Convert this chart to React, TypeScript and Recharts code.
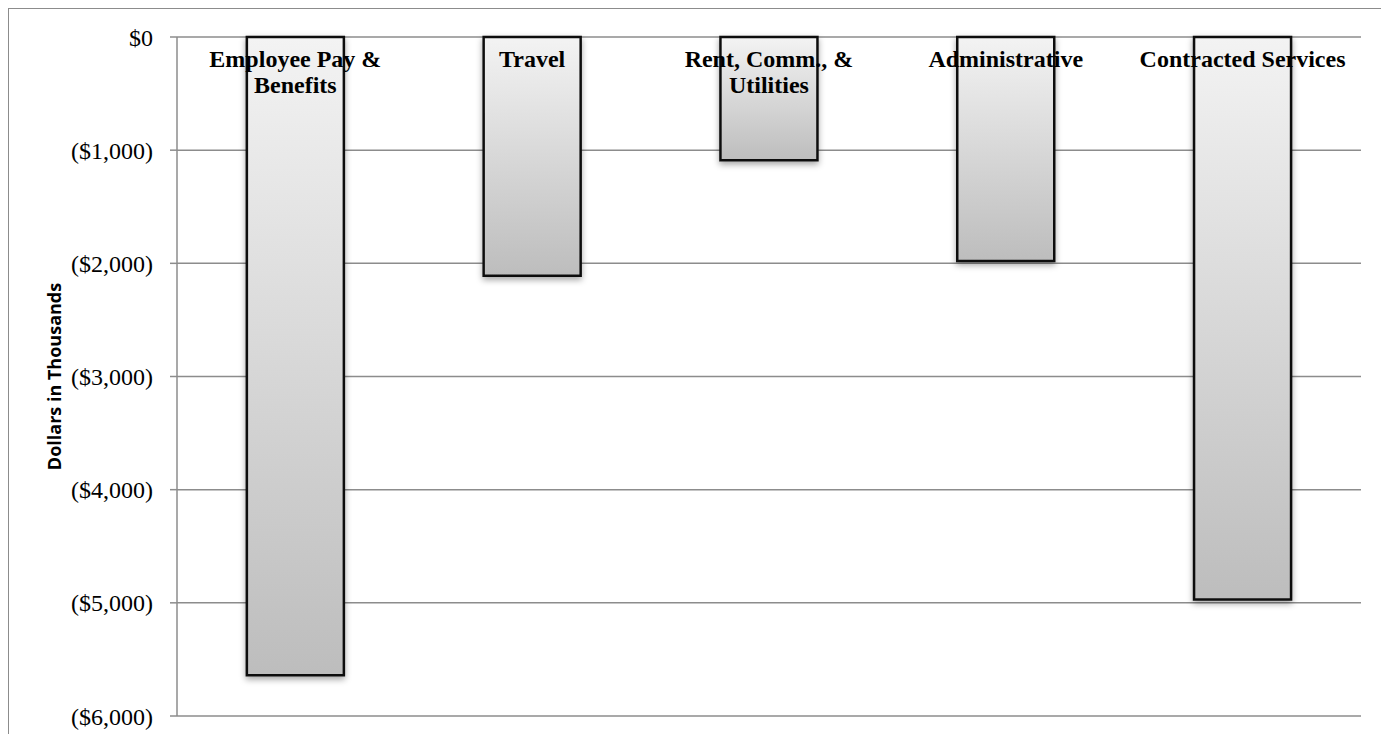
import React from "react";
import { BarChart, Bar, XAxis, YAxis, CartesianGrid, LabelList } from "recharts";

const categories = [
  "Employee Pay & Benefits",
  "Travel",
  "Rent, Comm., & Utilities",
  "Administrative",
  "Contracted Services",
];
const categoryLines = [
  ["Employee Pay &", "Benefits"],
  ["Travel"],
  ["Rent, Comm., &", "Utilities"],
  ["Administrative"],
  ["Contracted Services"],
];
const values = [-5640, -2110, -1090, -1980, -4970];
const yTicks = [0, -1000, -2000, -3000, -4000, -5000, -6000];

const data = categories.map((name, i) => ({ name, value: values[i] }));

const formatDollars = (v: number) =>
  v === 0 ? "$0" : v < 0 ? `($${Math.abs(v).toLocaleString("en-US")})` : `$${v.toLocaleString("en-US")}`;

const CategoryLabel = (props: any) => {
  const { x, y, width, height, index } = props;
  const top = Math.min(y, y + height);
  const cx = x + width / 2;
  const lines = categoryLines[index] || [];
  return (
    <text
      x={cx}
      y={top + 30}
      textAnchor="middle"
      fontFamily="'Liberation Serif', 'Times New Roman', serif"
      fontWeight="bold"
      fontSize={24}
      fill="#000"
    >
      {lines.map((l, i) => (
        <tspan key={i} x={cx} dy={i === 0 ? 0 : 26}>
          {l}
        </tspan>
      ))}
    </text>
  );
};

// small marks on the top axis at the category boundaries
const CategoryTick = (props: any) => {
  const { x, y, payload, index } = props;
  const off = payload && typeof payload.offset === "number" ? payload.offset : 0;
  if (!off) return <g />;
  return (
    <g>
      {index > 0 && <line x1={x - off} x2={x - off} y1={y} y2={y + 6} stroke="#8c8c8c" strokeWidth={1.5} />}
      {index === categories.length - 1 && (
        <line x1={x + off} x2={x + off} y1={y} y2={y + 6} stroke="#8c8c8c" strokeWidth={1.5} />
      )}
    </g>
  );
};

const App: React.FC = () => {
  return (
    <div style={{ width: 1376, height: 740, border: "1px solid #8c8c8c", background: "#fff" }}>
      <BarChart
        width={1374}
        height={738}
        data={data}
        margin={{ top: 28, right: 22, left: 0, bottom: 31 }}
        barCategoryGap="29.5%"
      >
        <defs>
          <linearGradient id="barGrad" x1="0" y1="0" x2="0" y2="1">
            <stop offset="0%" stopColor="#f3f3f3" />
            <stop offset="100%" stopColor="#bdbdbd" />
          </linearGradient>
          <filter id="barShadow" x="-20%" y="-20%" width="140%" height="140%">
            <feDropShadow dx="0" dy="3" stdDeviation="3" floodColor="#000" floodOpacity="0.35" />
          </filter>
        </defs>
        <CartesianGrid vertical={false} stroke="#8c8c8c" strokeWidth={1.5} />
        <XAxis
          dataKey="name"
          orientation="top"
          height={0}
          axisLine={false}
          tickLine={false}
          tickSize={0}
          tickMargin={0}
          tick={<CategoryTick />}
          interval={0}
        />
        <YAxis
          domain={[-6000, 0]}
          ticks={yTicks}
          width={168}
          stroke="#8c8c8c"
          axisLine={{ stroke: "#8c8c8c", strokeWidth: 1.5 }}
          tickLine={{ stroke: "#8c8c8c", strokeWidth: 1.5 }}
          tickSize={7}
          tickMargin={17}
          tickFormatter={formatDollars}
          tick={{ fill: "#000", fontSize: 24, fontFamily: "'Liberation Serif', 'Times New Roman', serif" }}
          label={{
            value: "Dollars in Thousands",
            angle: -90,
            position: "insideLeft",
            offset: 46,
            style: {
              textAnchor: "middle",
              fontFamily: "'Open Sans', sans-serif",
              fontWeight: "bold",
              fontSize: 18,
              fill: "#000",
            },
          }}
        />
        <Bar
          dataKey="value"
          fill="url(#barGrad)"
          stroke="#111"
          strokeWidth={2.5}
          filter="url(#barShadow)"
          isAnimationActive={false}
        >
          <LabelList dataKey="value" content={<CategoryLabel />} />
        </Bar>
      </BarChart>
    </div>
  );
};

export default App;
